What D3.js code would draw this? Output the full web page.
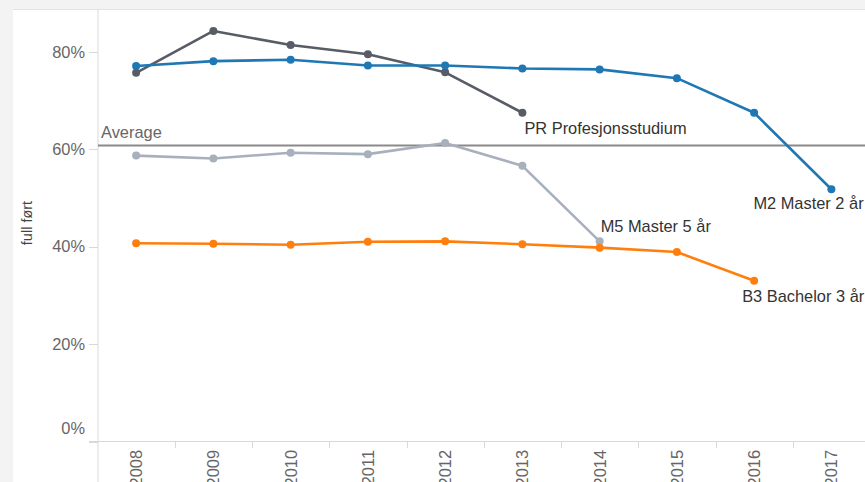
<!DOCTYPE html>
<html>
<head>
<meta charset="utf-8">
<script src="https://cdn.jsdelivr.net/npm/d3@7"></script>
<style>
  body { margin: 0; background: #f3f3f3; }
  svg { display: block; font-family: "Liberation Sans", Arial, sans-serif; }
</style>
</head>
<body>
<svg id="chart"></svg>
<script>
// data (percent, full ført)
var years = [2008, 2009, 2010, 2011, 2012, 2013, 2014, 2015, 2016, 2017];
var prValues = [75.7, 84.3, 81.4, 79.5, 75.8, 67.5];
var m2Values = [77.1, 78.1, 78.4, 77.2, 77.2, 76.6, 76.4, 74.6, 67.5, 51.8];
var m5Values = [58.7, 58.1, 59.3, 59.0, 61.3, 56.6, 41.1];
var b3Values = [40.7, 40.6, 40.4, 41.0, 41.1, 40.5, 39.8, 38.9, 33.0];
var averageValue = 60.8;
var yTicks = [0, 20, 40, 60, 80];

var width = 865;
var height = 482;

var series = [
  { name: "PR Profesjonsstudium", values: prValues, color: "#575c66", dx: 2, dy: 21 },
  { name: "M5 Master 5 år", values: m5Values, color: "#a8b0bd", dx: 1, dy: -9.5 },
  { name: "M2 Master 2 år", values: m2Values, color: "#1f77b4", dx: -78, dy: 20 },
  { name: "B3 Bachelor 3 år", values: b3Values, color: "#ff7f0e", dx: -12, dy: 21 }
];

var svg = d3.select("#chart").attr("width", width).attr("height", height);

// white panel over the gray page
svg.append("rect")
  .attr("x", 13).attr("y", 10)
  .attr("width", width - 13).attr("height", height - 10)
  .attr("fill", "#fff");
svg.append("line")
  .attr("x1", 13).attr("x2", width)
  .attr("y1", 9.5).attr("y2", 9.5)
  .attr("stroke", "#e2e2e2");

var x = d3.scaleBand().domain(years).range([97.5, 870]).padding(0);
var y = d3.scaleLinear().domain([0, 88.6]).range([441.5, 10]);

function cx(i) {
  return x(years[i]) + x.bandwidth() / 2;
}

// y axis
var yAxis = svg.append("g");
yAxis.append("line")
  .attr("x1", 98).attr("x2", 98)
  .attr("y1", 10).attr("y2", height)
  .attr("stroke", "#d9d9d9");
yAxis.selectAll(".ytick")
  .data(yTicks)
  .enter()
  .append("line")
  .attr("x1", 89).attr("x2", 98)
  .attr("y1", function (d) { return Math.round(y(d)) + 0.5; })
  .attr("y2", function (d) { return Math.round(y(d)) + 0.5; })
  .attr("stroke", "#d9d9d9");
yAxis.selectAll(".ylabel")
  .data(yTicks)
  .enter()
  .append("text")
  .attr("x", 85)
  .attr("y", function (d) { return d === 0 ? y(d) - 13 : y(d); })
  .attr("dy", "0.35em")
  .attr("text-anchor", "end")
  .style("font-size", "16.4px")
  .style("fill", "#666")
  .text(function (d) { return d + "%"; });

svg.append("text")
  .attr("transform", "translate(32,223)rotate(-90)")
  .attr("text-anchor", "middle")
  .style("font-size", "14.5px")
  .style("fill", "#444")
  .text("full ført");

// x axis
var xAxis = svg.append("g");
xAxis.append("line")
  .attr("x1", 89).attr("x2", width)
  .attr("y1", 441.5).attr("y2", 441.5)
  .attr("stroke", "#d9d9d9");
xAxis.selectAll(".xtick")
  .data(years.slice(1))
  .enter()
  .append("line")
  .attr("x1", function (d) { return Math.round(x(d)) + 0.5; })
  .attr("x2", function (d) { return Math.round(x(d)) + 0.5; })
  .attr("y1", 441.5).attr("y2", 448)
  .attr("stroke", "#d9d9d9");
xAxis.selectAll(".xlabel")
  .data(years)
  .enter()
  .append("text")
  .attr("transform", function (d) {
    return "translate(" + (x(d) + x.bandwidth() / 2 + 6) + ",450)rotate(-90)";
  })
  .attr("text-anchor", "end")
  .style("font-size", "16.4px")
  .style("fill", "#666")
  .text(function (d) { return d; });

// average reference line
svg.append("line")
  .attr("x1", 98).attr("x2", width)
  .attr("y1", y(averageValue)).attr("y2", y(averageValue))
  .attr("stroke", "#8a8a8a")
  .attr("stroke-width", 2);
svg.append("text")
  .attr("x", 101)
  .attr("y", y(averageValue) - 7)
  .style("font-size", "16.4px")
  .style("fill", "#666")
  .text("Average");

var line = d3.line()
  .x(function (d, i) { return cx(i); })
  .y(function (d) { return y(d); });

series.forEach(function (s) {
  var g = svg.append("g");
  g.append("path")
    .attr("d", line(s.values))
    .attr("fill", "none")
    .attr("stroke", s.color)
    .attr("stroke-width", 2.6)
    .attr("stroke-linejoin", "round");
  g.selectAll("circle")
    .data(s.values)
    .enter()
    .append("circle")
    .attr("cx", function (d, i) { return cx(i); })
    .attr("cy", function (d) { return y(d); })
    .attr("r", 4)
    .attr("fill", s.color);
  var last = s.values.length - 1;
  g.append("text")
    .attr("x", cx(last) + s.dx)
    .attr("y", y(s.values[last]) + s.dy)
    .style("font-size", "16.4px")
    .style("fill", "#333")
    .text(s.name);
});
</script>
</body>
</html>
